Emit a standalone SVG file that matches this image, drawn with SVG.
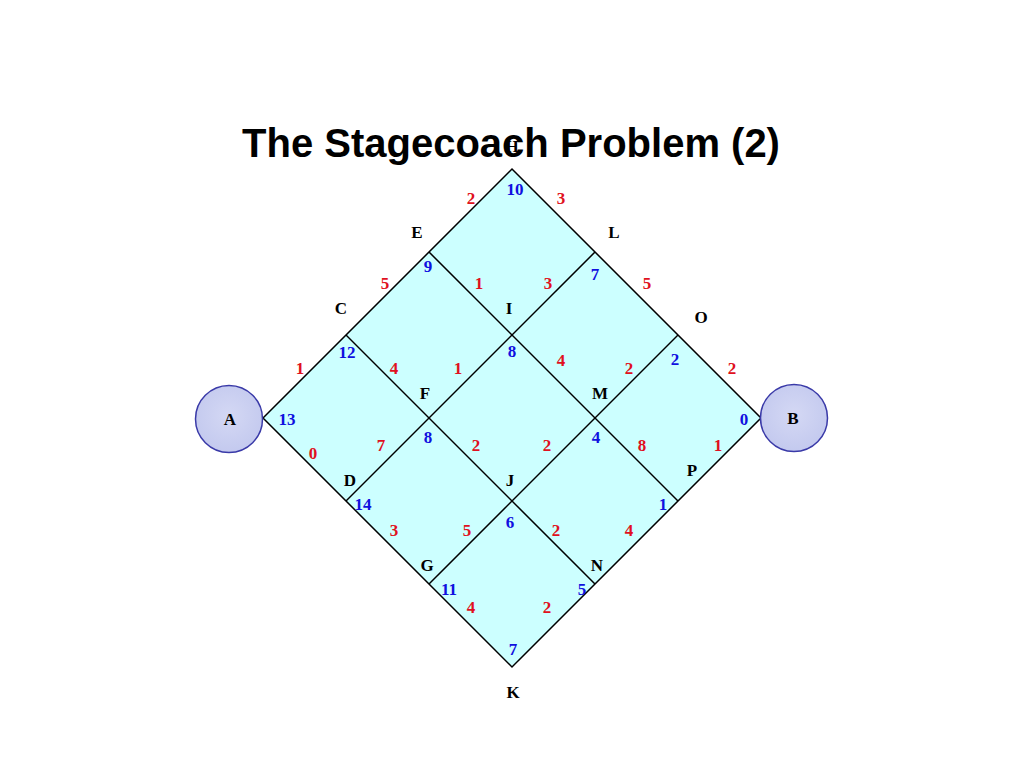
<svg xmlns="http://www.w3.org/2000/svg" width="1024" height="768" viewBox="0 0 1024 768">
<defs>
<radialGradient id="cg" cx="50%" cy="45%" r="60%">
<stop offset="0" stop-color="#D4D8F4"/>
<stop offset="1" stop-color="#C2C8EE"/>
</radialGradient>
<style>
.title{font-family:"Liberation Sans",Arial,sans-serif;font-weight:bold;font-size:40px;fill:#000;text-anchor:middle}
.lbl{font-family:"Liberation Serif","Times New Roman",serif;font-weight:bold;font-size:17px;fill:#000;text-anchor:middle}
.b{font-family:"Liberation Serif","Times New Roman",serif;font-weight:bold;font-size:17px;fill:#1010E0;text-anchor:middle}
.r{font-family:"Liberation Serif","Times New Roman",serif;font-weight:bold;font-size:17px;fill:#E01020;text-anchor:middle}
.ln{stroke:#000;stroke-width:1.5;fill:none}
.circ{fill:url(#cg);stroke:#3A3AA8;stroke-width:1.5}
</style>
</defs>
<rect width="1024" height="768" fill="#fff"/>
<text class="title" x="511" y="157">The Stagecoach Problem (2)</text>
<polygon points="263,418 512,169 761,418 512,667" fill="#CCFFFF"/>
<g id="connectors">
<polygon class="ln" points="263,418 512,169 761,418 512,667"/>
<line class="ln" x1="346" y1="335" x2="595" y2="584"/>
<line class="ln" x1="429" y1="252" x2="678" y2="501"/>
<line class="ln" x1="346" y1="501" x2="595" y2="252"/>
<line class="ln" x1="429" y1="584" x2="678" y2="335"/>
</g>
<g id="weights">
<text class="r" x="471" y="204">2</text>
<text class="r" x="561" y="204">3</text>
<text class="r" x="385" y="289">5</text>
<text class="r" x="479" y="289">1</text>
<text class="r" x="548" y="289">3</text>
<text class="r" x="647" y="289">5</text>
<text class="r" x="300" y="374">1</text>
<text class="r" x="394" y="374">4</text>
<text class="r" x="458" y="374">1</text>
<text class="r" x="561" y="366">4</text>
<text class="r" x="629" y="374">2</text>
<text class="r" x="732" y="374">2</text>
<text class="r" x="313" y="459">0</text>
<text class="r" x="381" y="451">7</text>
<text class="r" x="476" y="451">2</text>
<text class="r" x="547" y="451">2</text>
<text class="r" x="642" y="451">8</text>
<text class="r" x="718" y="451">1</text>
<text class="r" x="394" y="536">3</text>
<text class="r" x="467" y="536">5</text>
<text class="r" x="556" y="536">2</text>
<text class="r" x="629" y="536">4</text>
<text class="r" x="471" y="613">4</text>
<text class="r" x="547" y="613">2</text>
</g>
<g id="node-A"><circle class="circ" cx="229" cy="419" r="33.5"/><text class="lbl" x="230" y="425">A</text><text class="b" x="287" y="425">13</text></g>
<g id="node-B"><circle class="circ" cx="794" cy="418" r="33.5"/><text class="lbl" x="793" y="424">B</text><text class="b" x="744" y="425">0</text></g>
<g id="node-C"><text class="lbl" x="341" y="314">C</text><text class="b" x="347" y="358">12</text></g>
<g id="node-D"><text class="lbl" x="350" y="486">D</text><text class="b" x="363" y="510">14</text></g>
<g id="node-E"><text class="lbl" x="417" y="238">E</text><text class="b" x="428" y="272">9</text></g>
<g id="node-F"><text class="lbl" x="425" y="399">F</text><text class="b" x="428" y="443">8</text></g>
<g id="node-G"><text class="lbl" x="427" y="571">G</text><text class="b" x="449" y="595">11</text></g>
<g id="node-H"><text class="lbl" x="512" y="152">H</text><text class="b" x="515" y="195">10</text></g>
<g id="node-I"><text class="lbl" x="509" y="314">I</text><text class="b" x="512" y="357">8</text></g>
<g id="node-J"><text class="lbl" x="510" y="486">J</text><text class="b" x="510" y="528">6</text></g>
<g id="node-K"><text class="lbl" x="513" y="698">K</text><text class="b" x="513" y="655">7</text></g>
<g id="node-L"><text class="lbl" x="614" y="238">L</text><text class="b" x="595" y="280">7</text></g>
<g id="node-M"><text class="lbl" x="600" y="399">M</text><text class="b" x="596" y="443">4</text></g>
<g id="node-N"><text class="lbl" x="597" y="571">N</text><text class="b" x="582" y="595">5</text></g>
<g id="node-O"><text class="lbl" x="701" y="323">O</text><text class="b" x="675" y="365">2</text></g>
<g id="node-P"><text class="lbl" x="692" y="476">P</text><text class="b" x="663" y="510">1</text></g>
</svg>
